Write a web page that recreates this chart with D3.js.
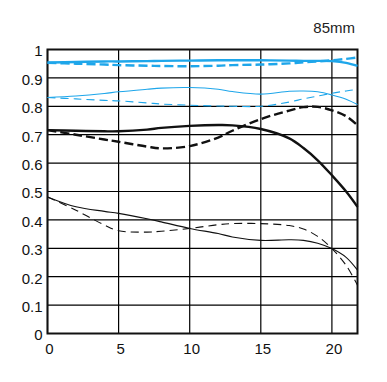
<!DOCTYPE html>
<html>
<head>
<meta charset="utf-8">
<script src="https://cdn.jsdelivr.net/npm/d3@7"></script>
<style>
  body { margin: 0; background: #fff; }
  text { font-family: "Liberation Sans", Arial, sans-serif; }
</style>
</head>
<body>
<div id="chart"></div>
<script>
// image height positions (mm from centre)
var positions = [0, 2, 4, 5, 7, 8, 10, 12, 13, 15, 17, 18, 19, 20, 21, 21.8];

// thick blue, 10 lp/mm
var blueThickS = [0.954, 0.956, 0.958, 0.958, 0.959, 0.960, 0.961, 0.962, 0.962, 0.962, 0.961, 0.960, 0.960, 0.959, 0.953, 0.942];
var blueThickM = [0.953, 0.950, 0.947, 0.945, 0.943, 0.942, 0.941, 0.943, 0.945, 0.947, 0.951, 0.955, 0.958, 0.962, 0.967, 0.972];
// thin blue
var blueThinS = [0.831, 0.836, 0.845, 0.851, 0.860, 0.864, 0.866, 0.860, 0.852, 0.843, 0.853, 0.854, 0.851, 0.840, 0.825, 0.806];
var blueThinM = [0.831, 0.826, 0.821, 0.819, 0.812, 0.808, 0.804, 0.801, 0.800, 0.800, 0.815, 0.826, 0.836, 0.846, 0.854, 0.860];
// thick black, 30 lp/mm
var blackThickS = [0.716, 0.714, 0.712, 0.712, 0.718, 0.724, 0.731, 0.734, 0.733, 0.720, 0.687, 0.653, 0.610, 0.557, 0.500, 0.446];
var blackThickM = [0.716, 0.700, 0.683, 0.675, 0.658, 0.652, 0.660, 0.690, 0.714, 0.755, 0.785, 0.797, 0.798, 0.786, 0.765, 0.733];
// thin black
var blackThinS = [0.481, 0.446, 0.430, 0.423, 0.404, 0.393, 0.370, 0.352, 0.340, 0.328, 0.330, 0.328, 0.318, 0.299, 0.268, 0.223];
var blackThinM = [0.481, 0.434, 0.382, 0.362, 0.357, 0.360, 0.370, 0.383, 0.387, 0.387, 0.380, 0.368, 0.342, 0.299, 0.240, 0.170];

var xTicks = [0, 5, 10, 15, 20];
var yTicks = [0, 0.1, 0.2, 0.3, 0.4, 0.5, 0.6, 0.7, 0.8, 0.9, 1];
var title = "85mm";

var width = 387, height = 382;
var margin = { top: 49.5, right: 29.5, bottom: 48.5, left: 47.5 };

var svg = d3.select('#chart')
  .append('svg')
  .attr('width', width)
  .attr('height', height);

var x = d3.scaleLinear().domain([0, 21.8]).range([margin.left, width - margin.right]);
var y = d3.scaleLinear().domain([0, 1]).range([height - margin.bottom, margin.top]);

// grid
svg.append('g').selectAll('line.h')
  .data(yTicks)
  .enter().append('line')
  .attr('x1', x(0)).attr('x2', x(21.8))
  .attr('y1', function (d) { return y(d); })
  .attr('y2', function (d) { return y(d); })
  .attr('stroke', '#000').attr('stroke-width', 1.2);

svg.append('g').selectAll('line.v')
  .data(xTicks)
  .enter().append('line')
  .attr('y1', y(0)).attr('y2', y(1))
  .attr('x1', function (d) { return x(d); })
  .attr('x2', function (d) { return x(d); })
  .attr('stroke', '#000').attr('stroke-width', 1.2);

// frame
svg.append('rect')
  .attr('x', x(0)).attr('y', y(1))
  .attr('width', x(21.8) - x(0)).attr('height', y(0) - y(1))
  .attr('fill', 'none').attr('stroke', '#111').attr('stroke-width', 2);

// axes labels via d3 axes
var yAxis = svg.append('g')
  .attr('transform', 'translate(' + x(0) + ',1.5)')
  .call(d3.axisLeft(y).tickValues(yTicks).tickSize(0).tickPadding(5)
    .tickFormat(function (d) { return d === 0 || d === 1 ? d : d3.format('.1f')(d); }));
var xAxis = svg.append('g')
  .attr('transform', 'translate(1.5,' + y(0) + ')')
  .call(d3.axisBottom(x).tickValues(xTicks).tickSize(0).tickPadding(10));
[xAxis, yAxis].forEach(function (a) {
  a.select('.domain').remove();
  a.selectAll('text')
    .attr('fill', '#111')
    .style('font-size', '15px')
    .style('font-family', '"Liberation Sans", Arial, sans-serif');
});

svg.append('text')
  .attr('x', 355).attr('y', 33)
  .attr('text-anchor', 'end')
  .style('font-size', '15px')
  .attr('fill', '#222')
  .text(title);

// curves
var series = [
  { v: blueThickS, color: '#1ea6ea', w: 2.4, dash: null },
  { v: blueThickM, color: '#1ea6ea', w: 2.4, dash: '9,4' },
  { v: blueThinS, color: '#1ea6ea', w: 1.1, dash: null },
  { v: blueThinM, color: '#1ea6ea', w: 1.1, dash: '8,5' },
  { v: blackThickS, color: '#111', w: 2.4, dash: null },
  { v: blackThickM, color: '#111', w: 2.4, dash: '9,4' },
  { v: blackThinS, color: '#111', w: 1.1, dash: null },
  { v: blackThinM, color: '#111', w: 1.1, dash: '8,5' }
];

var line = d3.line()
  .x(function (d) { return x(d[0]); })
  .y(function (d) { return y(d[1]); })
  .curve(d3.curveCatmullRom);

svg.append('g').selectAll('path')
  .data(series)
  .enter().append('path')
  .attr('d', function (s) { return line(positions.map(function (p, i) { return [p, s.v[i]]; })); })
  .attr('fill', 'none')
  .attr('stroke', function (s) { return s.color; })
  .attr('stroke-width', function (s) { return s.w; })
  .attr('stroke-dasharray', function (s) { return s.dash; });
</script>
</body>
</html>
